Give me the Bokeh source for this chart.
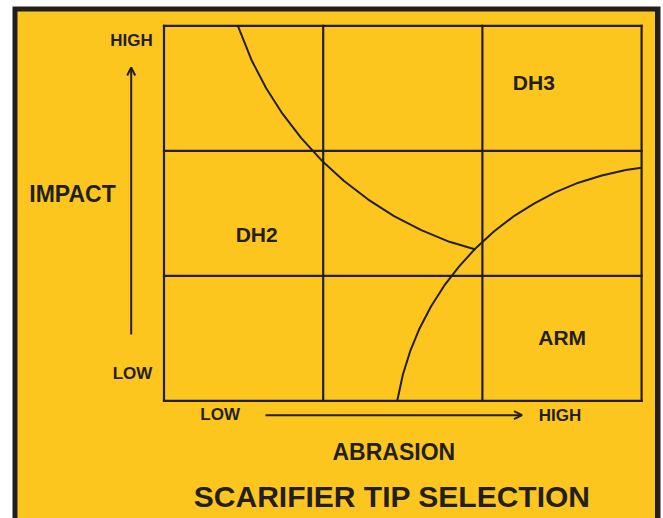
from bokeh.plotting import figure
from bokeh.models import Range1d, Arrow, OpenHead
from bokeh.core.properties import value
from bokeh.embed import file_html
from bokeh.resources import INLINE

# ---------------- data ----------------
x_levels = ["LOW", "HIGH"]          # abrasion scale ends
y_levels = ["LOW", "HIGH"]          # impact scale ends
x_title = "ABRASION"
y_title = "IMPACT"
chart_title = "SCARIFIER TIP SELECTION"

grid_edges_x = [0, 1, 2, 3]
grid_edges_y = [0, 1, 2, 3]

# DH2 / DH3 boundary
dh_boundary_x = [0.464, 0.552, 0.641, 0.744, 0.861, 0.990, 1.131, 1.283, 1.445, 1.616, 1.793, 1.957]
dh_boundary_y = [3.000, 2.720, 2.503, 2.297, 2.103, 1.923, 1.758, 1.610, 1.478, 1.366, 1.272, 1.211]

# ARM boundary
arm_boundary_x = [1.465, 1.501, 1.547, 1.606, 1.677, 1.760, 1.854, 1.958, 2.072, 2.193, 2.324, 2.460, 2.603, 2.750, 2.901, 3.000]
arm_boundary_y = [0.000, 0.212, 0.399, 0.581, 0.754, 0.921, 1.076, 1.221, 1.354, 1.473, 1.578, 1.669, 1.745, 1.803, 1.846, 1.864]

zone_names = ["DH2", "DH3", "ARM"]
zone_x = [0.582, 2.323, 2.501]
zone_y = [1.264, 2.480, 0.434]

# ---------------- styling / layout ----------------
DARK = "#231F20"
YELLOW = "#FDC61F"
FONT = value("Liberation Sans")

X0, UX = 163.5, 159.2   # picture pixel of x=0, pixels per unit
Y0, UY = 400.3, 125.0   # picture pixel of y=0, pixels per unit
LIFT = 0.41             # baseline correction, in ems


def fx(px):
    return (px - X0) / UX


def fy(py):
    return (Y0 - py) / UY


def ty(py, size):
    """y for a text whose cap bottom sits at picture row py"""
    return fy(py - LIFT * size)


W, H = 663, 518
p = figure(width=W, height=H, output_backend="svg", toolbar_location=None,
           x_range=Range1d(fx(0), fx(W)), y_range=Range1d(fy(H), fy(0)),
           x_axis_type=None, y_axis_type=None, min_border=0,
           background_fill_color="white", border_fill_color="white",
           outline_line_color=None)
p.grid.visible = False

# frame: black border on left, top, right; yellow panel
p.quad(left=[fx(12)], right=[fx(660)], bottom=[fy(530)], top=[fy(6)],
       fill_color=DARK, line_color=None)
p.quad(left=[fx(17)], right=[fx(654.5)], bottom=[fy(530)], top=[fy(11)],
       fill_color=YELLOW, line_color=None)

# 3x3 grid
ymin, ymax = min(grid_edges_y), max(grid_edges_y)
xmin, xmax = min(grid_edges_x), max(grid_edges_x)
p.segment(x0=grid_edges_x, y0=[ymin] * len(grid_edges_x),
          x1=grid_edges_x, y1=[ymax] * len(grid_edges_x),
          line_color=DARK, line_width=2.2, line_cap="square")
p.segment(x0=[xmin] * len(grid_edges_y), y0=grid_edges_y,
          x1=[xmax] * len(grid_edges_y), y1=grid_edges_y,
          line_color=DARK, line_width=2.2, line_cap="square")

# boundary curves
p.line(dh_boundary_x, dh_boundary_y, line_color=DARK, line_width=2)
p.line(arm_boundary_x, arm_boundary_y, line_color=DARK, line_width=2)

# zone labels
zone_y_adj = [y + LIFT * 21 / UY for y in zone_y]
p.text(x=zone_x, y=zone_y_adj, text=zone_names, text_font=FONT, text_font_style="bold",
       text_font_size="21px", text_align="center", text_baseline="alphabetic",
       text_color=DARK)

# level labels
p.text(x=[fx(131), fx(132)], y=[ty(47, 17), ty(379.5, 17)], text=[y_levels[1], y_levels[0]],
       text_font=FONT, text_font_style="bold", text_font_size="17px",
       text_align="center", text_baseline="alphabetic", text_color=DARK)
p.text(x=[fx(219.7), fx(559.5)], y=[ty(421.3, 17), ty(421.5, 17)], text=[x_levels[0], x_levels[1]],
       text_font=FONT, text_font_style="bold", text_font_size="17px",
       text_align="center", text_baseline="alphabetic", text_color=DARK)

# axis titles
p.text(x=[fx(72)], y=[ty(203, 23)], text=[y_title], text_font=FONT, text_font_style="bold",
       text_font_size="23px", text_align="center", text_baseline="alphabetic",
       text_color=DARK)
p.text(x=[fx(393.3)], y=[ty(460.5, 23)], text=[x_title], text_font=FONT, text_font_style="bold",
       text_font_size="23px", text_align="center", text_baseline="alphabetic",
       text_color=DARK)

# chart title
p.text(x=[fx(391.7)], y=[ty(508, 30)], text=[chart_title], text_font=FONT,
       text_font_style="bold", text_font_size="30px", text_align="center",
       text_baseline="alphabetic", text_color=DARK)

# arrows
p.add_layout(Arrow(end=OpenHead(size=8, line_width=2, line_color=DARK),
                   x_start=fx(130.7), y_start=fy(334), x_end=fx(130.7), y_end=fy(67),
                   line_width=2, line_color=DARK))
p.add_layout(Arrow(end=OpenHead(size=8, line_width=2, line_color=DARK),
                   x_start=fx(265), y_start=fy(414.7), x_end=fx(521.5), y_end=fy(414.7),
                   line_width=2, line_color=DARK))

open("out.html", "w").write(file_html(p, INLINE))
